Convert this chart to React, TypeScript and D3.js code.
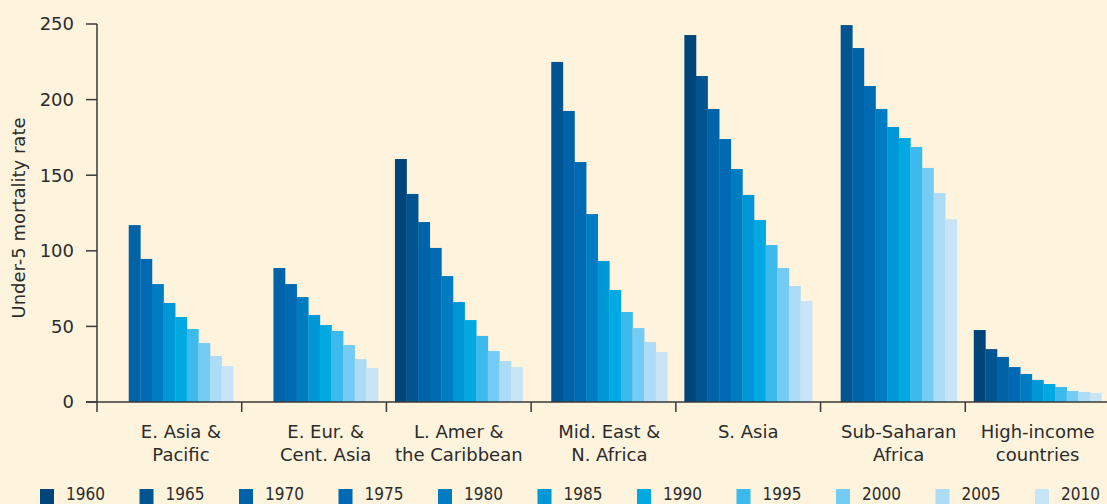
import React from "react";
import * as d3 from "d3";

const years = ["1960", "1965", "1970", "1975", "1980", "1985", "1990", "1995", "2000", "2005", "2010"];
const categories = [
  ["E. Asia &", "Pacific"],
  ["E. Eur. &", "Cent. Asia"],
  ["L. Amer &", "the Caribbean"],
  ["Mid. East &", "N. Africa"],
  ["S. Asia"],
  ["Sub-Saharan", "Africa"],
  ["High-income", "countries"],
];
const eastAsia = [null, null, 117, 94.6, 78, 65.5, 56.2, 48.3, 39, 30.4, 23.8];
const eastEurope = [null, null, 88.6, 78, 69.4, 57.5, 50.9, 47, 37.7, 28.4, 22.5];
const latinAmerica = [160.7, 137.6, 119, 101.9, 83.3, 66.1, 54.2, 43.7, 33.7, 27.1, 23.1];
const middleEast = [null, 224.9, 192.5, 158.7, 124.3, 93.3, 74.1, 59.5, 48.9, 39.7, 33.1];
const southAsia = [242.7, 215.6, 193.8, 173.9, 154.1, 136.9, 120.4, 103.8, 88.6, 76.7, 66.8];
const subSaharan = [null, 249.3, 234.1, 209, 193.8, 181.9, 174.6, 168.7, 154.8, 138.2, 121];
const highIncome = [47.6, 35, 29.8, 23.1, 18.5, 14.6, 11.9, 9.9, 7.3, 6.6, 6];
const series = [eastAsia, eastEurope, latinAmerica, middleEast, southAsia, subSaharan, highIncome];
const yTicks = [0, 50, 100, 150, 200, 250];
const colors = ["#00457a", "#005591", "#0062a7", "#0069b3", "#007cc3", "#0097d7", "#00a9e1", "#3bbaeb", "#74cbf4", "#acdcf6", "#c8e5f8"];

const W = 1107;
const H = 504;
const FONT = "'DejaVu Sans', sans-serif";

export default function App() {
  const x0 = d3.scaleBand<number>().domain(d3.range(categories.length)).range([97, 1110]);
  const bw = x0.bandwidth();
  const x1 = d3.scaleBand<string>().domain(years).range([8.5, bw - 8.5]);
  const y = d3.scaleLinear().domain([0, 250]).range([402, 24]);
  const color = d3.scaleOrdinal<string, string>().domain(years).range(colors);
  const axisColor = "#3a3a3a";

  const labelCenter = (gi: number) => {
    const vals = series[gi];
    const present = vals.map((v, i) => (v == null ? -1 : i)).filter((i) => i >= 0);
    const first = present[0];
    const last = present[present.length - 1];
    const left = (x0(gi) as number) + (x1(years[first]) as number);
    const right = (x0(gi) as number) + (x1(years[last]) as number) + x1.bandwidth();
    return (left + right) / 2;
  };

  return (
    <>
      <style>{`body{margin:0;}`}</style>
      <svg width={W} height={H} style={{ display: "block", background: "#fef3dc" }}>
        <rect x={0} y={0} width={W} height={H} fill="#fef3dc" />
        {/* bars */}
        {series.map((vals, gi) => (
          <g key={gi} transform={`translate(${x0(gi)},0)`}>
            {vals.map((v, yi) =>
              v == null ? null : (
                <rect
                  key={yi}
                  x={x1(years[yi])}
                  y={y(v)}
                  width={x1.bandwidth() + 0.3}
                  height={y(0) - y(v)}
                  fill={color(years[yi])}
                />
              )
            )}
          </g>
        ))}
        {/* y axis */}
        <line x1={97} x2={97} y1={y(250)} y2={412} stroke={axisColor} strokeWidth={1.5} />
        {yTicks.map((t) => (
          <g key={t}>
            <line x1={86} x2={97} y1={y(t)} y2={y(t)} stroke={axisColor} strokeWidth={1.5} />
            <text
              x={74}
              y={y(t)}
              dy="0.36em"
              textAnchor="end"
              fontFamily={FONT}
              fontSize={18}
              fill="#2b2b2b"
            >
              {t}
            </text>
          </g>
        ))}
        <text
          transform={`translate(25,${(y(250) + y(0)) / 2 + 5}) rotate(-90)`}
          textAnchor="middle"
          fontFamily={FONT}
          fontSize={18}
          fill="#2b2b2b"
        >
          Under-5 mortality rate
        </text>
        {/* x axis */}
        <line x1={86} x2={W} y1={y(0)} y2={y(0)} stroke={axisColor} strokeWidth={1.5} />
        {categories.map((c, gi) => (
          <g key={gi}>
            {gi > 0 && (
              <line
                x1={x0(gi)}
                x2={x0(gi)}
                y1={y(0)}
                y2={412}
                stroke={axisColor}
                strokeWidth={1.5}
              />
            )}
            <text textAnchor="middle" fontFamily={FONT} fontSize={18} fill="#2b2b2b">
              {c.map((line, li) => (
                <tspan key={li} x={labelCenter(gi)} y={438 + li * 23}>
                  {line}
                </tspan>
              ))}
            </text>
          </g>
        ))}
        {/* legend */}
        {years.map((yr, i) => {
          const lx = 40 + i * 99.5;
          return (
            <g key={yr}>
              <rect x={lx} y={489} width={14} height={15} fill={color(yr)} />
              <text
                x={lx + 26}
                y={499.5}
                fontFamily={FONT}
                fontSize={18.5}
                textLength={39}
                lengthAdjust="spacingAndGlyphs"
                fill="#2b2b2b"
              >
                {yr}
              </text>
            </g>
          );
        })}
      </svg>
    </>
  );
}
